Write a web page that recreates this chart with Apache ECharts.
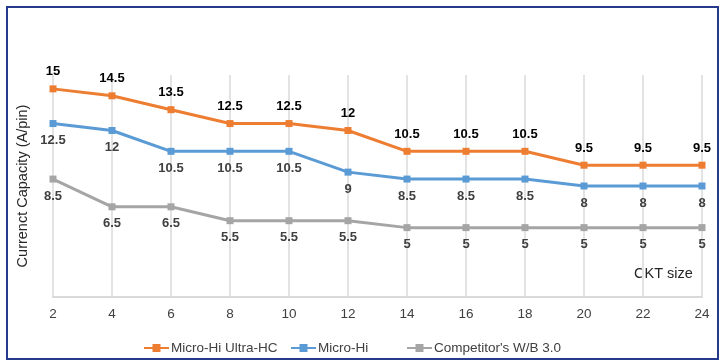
<!DOCTYPE html>
<html>
<head>
<meta charset="utf-8">
<script src="https://cdn.jsdelivr.net/npm/echarts@6/dist/echarts.min.js"></script>
<style>
  html, body { margin: 0; padding: 0; background: #fff; }
  #chart { width: 723px; height: 361px; }
</style>
</head>
<body>
<div id="chart"></div>
<script>
// 数据
const ckt = ['2', '4', '6', '8', '10', '12', '14', '16', '18', '20', '22', '24']
const ultraHC = [15, 14.5, 13.5, 12.5, 12.5, 12, 10.5, 10.5, 10.5, 9.5, 9.5, 9.5]
const microHi = [12.5, 12, 10.5, 10.5, 10.5, 9, 8.5, 8.5, 8.5, 8, 8, 8]
const competitor = [8.5, 6.5, 6.5, 5.5, 5.5, 5.5, 5, 5, 5, 5, 5, 5]

const font = 'Liberation Sans, Arial, sans-serif'

function lineSeries(name, data, color, pos, labelColor) {
  return {
    name: name,
    type: 'line',
    data: data,
    symbol: 'rect',
    symbolSize: 7,
    lineStyle: { color: color, width: 3 },
    itemStyle: { color: color },
    label: {
      show: true,
      position: pos,
      distance: 7,
      color: labelColor,
      fontFamily: font,
      fontSize: 13,
      fontWeight: 'bold'
    }
  }
}

function legendAt(name, left) {
  return {
    data: [name],
    left: left,
    top: 336,
    itemWidth: 25,
    itemHeight: 10,
    itemGap: 2,
    textStyle: { fontFamily: font, fontSize: 13.5, color: '#404040', padding: [0, 0, 0, -3] }
  }
}

const myChart = echarts.init(document.getElementById('chart'))
myChart.setOption({
  animation: false,
  backgroundColor: '#fff',
  grid: { left: 53, right: 21, top: 75, bottom: 64 },
  legend: [
    legendAt('Micro-Hi Ultra-HC', 138),
    legendAt('Micro-Hi', 285),
    legendAt("Competitor's W/B 3.0", 401)
  ],
  graphic: [
    {
      type: 'rect',
      shape: { x: 7, y: 7, width: 711, height: 352 },
      style: { fill: 'none', stroke: '#253a8a', lineWidth: 2 }
    },
    {
      type: 'text',
      left: 634,
      top: 266,
      style: { text: 'CKT size', fontFamily: font, fontSize: 14.5, fill: '#262626' }
    }
  ],
  xAxis: {
    type: 'category',
    data: ckt,
    boundaryGap: false,
    axisLine: { lineStyle: { color: '#d9d9d9', width: 2 } },
    axisTick: { show: false },
    axisLabel: { color: '#404040', fontFamily: font, fontSize: 13.5, margin: 10 },
    splitLine: { show: true, lineStyle: { color: '#e3e3e3', width: 2 } }
  },
  yAxis: {
    type: 'value',
    min: 0,
    max: 16,
    interval: 2,
    name: 'Currenct Capacity (A/pin)',
    nameLocation: 'middle',
    nameGap: 23,
    nameTextStyle: { fontFamily: font, fontSize: 14.5, color: '#262626' },
    axisLine: { show: false },
    axisTick: { show: false },
    axisLabel: { show: false },
    splitLine: { show: false }
  },
  series: [
    lineSeries('Micro-Hi Ultra-HC', ultraHC, '#ED7D31', 'top', '#000'),
    lineSeries('Micro-Hi', microHi, '#5B9BD5', 'bottom', '#404040'),
    lineSeries("Competitor's W/B 3.0", competitor, '#A5A5A5', 'bottom', '#404040')
  ]
})
</script>
</body>
</html>
